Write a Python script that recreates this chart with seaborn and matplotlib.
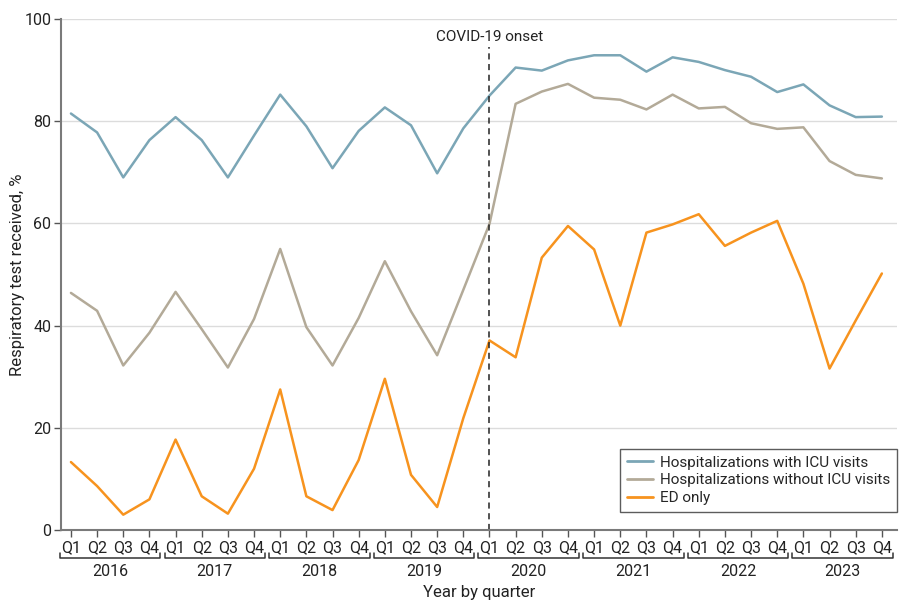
import matplotlib
matplotlib.use("Agg")
import matplotlib.pyplot as plt
import matplotlib.transforms as mtransforms
from matplotlib import font_manager
import numpy as np
import pandas as pd
import seaborn as sns

years = ["2016", "2017", "2018", "2019", "2020", "2021", "2022", "2023"]
quarters = ["Q1", "Q2", "Q3", "Q4"]

icu = [81.5, 77.8, 69.0, 76.3, 80.8, 76.3, 69.0, 77.2,
       85.2, 79.0, 70.8, 78.1, 82.7, 79.2, 69.8, 78.6,
       85.0, 90.5, 89.9, 91.9, 92.9, 92.9, 89.7, 92.5,
       91.6, 90.0, 88.7, 85.7, 87.2, 83.1, 80.8, 80.9]
no_icu = [46.4, 42.9, 32.2, 38.6, 46.6, 39.3, 31.8, 41.3,
          55.0, 39.7, 32.2, 41.5, 52.6, 42.8, 34.2, 47.0,
          59.9, 83.4, 85.8, 87.3, 84.6, 84.2, 82.3, 85.2,
          82.5, 82.8, 79.6, 78.5, 78.8, 72.2, 69.5, 68.8]
ed_only = [13.3, 8.6, 3.0, 6.0, 17.7, 6.6, 3.2, 12.0,
           27.5, 6.6, 3.9, 13.7, 29.6, 10.8, 4.5, 21.9,
           37.1, 33.8, 53.3, 59.5, 54.9, 40.0, 58.2, 59.8,
           61.8, 55.6, 58.2, 60.5, 48.2, 31.6, 41.0, 50.2]

series_names = ["Hospitalizations with ICU visits",
                "Hospitalizations without ICU visits",
                "ED only"]
series_colors = ["#7ba6b6", "#b3aa98", "#f7931e"]
onset_index = 16  # 2020 Q1

sns.set_theme(style="white")
available = {f.name for f in font_manager.fontManager.ttflist}
family = ["Liberation Sans Narrow", "DejaVu Sans"] if "Liberation Sans Narrow" in available else ["Roboto", "DejaVu Sans"]
plt.rcParams["font.family"] = family

n = len(icu)
idx = np.arange(n)
df = pd.DataFrame({
    "idx": np.concatenate([idx, idx, idx]),
    "value": icu + no_icu + ed_only,
    "series": np.repeat(series_names, n),
})

fig = plt.figure(figsize=(9.01, 6.01), dpi=100)
ax = fig.add_axes([0.0677, 0.1181, 0.9279, 0.8503])

sns.lineplot(data=df, x="idx", y="value", hue="series", hue_order=series_names,
             palette=series_colors, linewidth=1.8, ax=ax, legend=True)

ax.set_ylim(0, 100)
ax.set_xlim(-0.38, 31.58)
ax.set_yticks([0, 20, 40, 60, 80, 100])
ax.yaxis.grid(True, color="#dcdcdc", linewidth=1.0)
ax.xaxis.grid(False)
ax.set_axisbelow(True)

for side in ["top", "right"]:
    ax.spines[side].set_visible(False)
for side in ["left", "bottom"]:
    ax.spines[side].set_color("#7a7a7a")
    ax.spines[side].set_linewidth(1.5)

ax.set_xticks(idx)
ax.set_xticklabels([q for _ in years for q in quarters])
ax.tick_params(axis="x", direction="out", length=5, width=1, color="#555555",
               labelsize=11.5, labelcolor="#222222", pad=2, bottom=True)
ax.tick_params(axis="y", direction="out", length=5, width=1, color="#555555",
               labelsize=11.5, labelcolor="#222222", pad=2, left=True)

ax.set_ylabel("Respiratory test received, %", fontsize=12, color="#222222")
ax.yaxis.set_label_coords(-0.043, 0.5)
ax.set_xlabel("Year by quarter", fontsize=12, color="#222222")
ax.xaxis.set_label_coords(0.5, -0.108)

# COVID-19 onset marker
ax.plot([onset_index, onset_index], [0, 94.5], color="#222222", linestyle=(0, (4, 3)),
        linewidth=1.1)
ax.text(onset_index, 96.5, "COVID-19 onset", ha="center", va="center",
        fontsize=11, color="#222222")

# Year brackets under the quarter labels
trans = mtransforms.blended_transform_factory(ax.transData, ax.transAxes)
y_br = -0.055
for k, yr in enumerate(years):
    x0 = 4 * k - 0.42
    x1 = 4 * k + 3.42
    ax.plot([x0, x0, x1, x1], [y_br + 0.01, y_br, y_br, y_br + 0.01],
            transform=trans, color="#333333", linewidth=1.1, clip_on=False)
    ax.text(4 * k + 1.5, y_br - 0.012, yr, transform=trans, ha="center", va="top",
            fontsize=11.5, color="#222222")

leg = ax.legend(loc="lower right", bbox_to_anchor=(1.0, 0.035), frameon=True,
                fancybox=False, edgecolor="#333333", fontsize=11,
                handlelength=1.7, handletextpad=0.45, borderpad=0.45,
                borderaxespad=0, labelspacing=0.25, title=None)
leg.get_frame().set_linewidth(1.0)
for line in leg.get_lines():
    line.set_linewidth(2.0)

fig.savefig("out.png", dpi=100)
